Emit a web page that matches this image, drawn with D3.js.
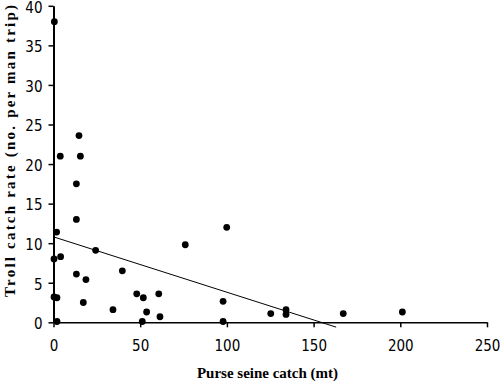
<!DOCTYPE html>
<html>
<head>
<meta charset="utf-8">
<script src="https://cdn.jsdelivr.net/npm/d3@7"></script>
<style>
  html, body { margin: 0; padding: 0; background: #fff; }
  svg { display: block; }
  .tick text { font-family: "Liberation Sans Narrow", "DejaVu Sans Condensed", "Liberation Sans", sans-serif; font-size: 15px; fill: #000; }
  .lbl { font-family: "Liberation Serif", "Times New Roman", serif; font-weight: bold; font-size: 15px; fill: #000; }
</style>
</head>
<body>
<script>
// Purse seine catch (mt)
const purseCatch = [0.5, 3.9, 14.7, 15.5, 13.2, 13.2, 1.8, 0.3, 4.1, 24.3, 13.2, 18.7, 17.2,
  0.3, 2.0, 2.0, 34.3, 39.7, 48.0, 51.8, 51.2, 53.7, 60.7, 61.4, 76.0, 99.9, 97.8, 97.8,
  125.3, 134.1, 134.1, 167.1, 201.2];
// Troll catch rate (no. per man trip)
const trollRate = [38.0, 21.0, 23.6, 21.0, 17.5, 13.0, 11.4, 8.0, 8.3, 9.1, 6.1, 5.4, 2.5,
  3.2, 3.1, 0.1, 1.6, 6.5, 3.6, 3.1, 0.1, 1.3, 3.6, 0.7, 9.8, 12.0, 2.65, 0.1,
  1.1, 1.6, 1.0, 1.1, 1.3];
// Linear trend line end points
const trendX = [0, 163];
const trendY = [10.8, -0.61];
const xTicks = [0, 50, 100, 150, 200, 250];
const yTicks = [0, 5, 10, 15, 20, 25, 30, 35, 40];

const W = 500, H = 384;
const svg = d3.select("body").append("svg").attr("width", W).attr("height", H);

const x = d3.scaleLinear().domain([0, 250]).range([53.5, 487]);
const y = d3.scaleLinear().domain([0, 40]).range([322.3, 5.8]);

// axes
const xAxis = svg.append("g").attr("transform", `translate(0,${y(0)})`)
  .call(d3.axisBottom(x).tickValues(xTicks).tickSize(5).tickSizeOuter(0).tickPadding(13));
xAxis.select(".domain").attr("stroke", "#000").attr("stroke-width", 1.5);
xAxis.selectAll(".tick line").attr("stroke", "#000").attr("stroke-width", 1.5);

const yAxis = svg.append("g").attr("transform", `translate(${x(0)},0)`)
  .call(d3.axisLeft(y).tickValues(yTicks).tickSize(5).tickSizeOuter(0).tickPadding(6));
yAxis.select(".domain").attr("stroke", "#000").attr("stroke-width", 2);
yAxis.selectAll(".tick line").attr("stroke", "#000").attr("stroke-width", 1.5);
yAxis.selectAll(".tick text").attr("dy", "0.42em");

// trend line
svg.append("path")
  .datum(trendX.map((d, i) => [d, trendY[i]]))
  .attr("fill", "none").attr("stroke", "#000").attr("stroke-width", 1)
  .attr("d", d3.line().x(d => x(d[0])).y(d => y(d[1])));

// points
svg.append("g").selectAll("circle")
  .data(purseCatch.map((d, i) => [d, trollRate[i]]))
  .join("circle")
  .attr("cx", d => x(d[0])).attr("cy", d => y(d[1]))
  .attr("r", 3.4).attr("fill", "#000");

// labels
svg.append("text").attr("class", "lbl")
  .attr("x", 267.5).attr("y", 378)
  .attr("text-anchor", "middle")
  .text("Purse seine catch (mt)");

svg.append("text").attr("class", "lbl")
  .attr("transform", "translate(15,151) rotate(-90)")
  .attr("text-anchor", "middle")
  .attr("textLength", 292).attr("lengthAdjust", "spacing")
  .text("Troll catch rate (no. per man trip)");
</script>
</body>
</html>
